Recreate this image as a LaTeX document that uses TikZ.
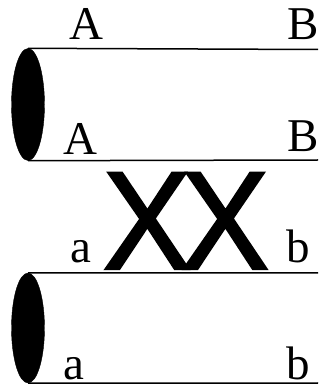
\documentclass[tikz,border=0pt]{standalone}
\usepackage{fontspec}
\setmainfont{Liberation Serif}
\newfontfamily\xfont[FakeBold=1.6]{Liberation Sans}
\usetikzlibrary{shapes.geometric}
\tikzset{
  endcap/.style={ellipse, fill=black, draw=black, inner sep=0pt, minimum width=33pt, minimum height=112pt},
  wire/.style={line width=1.5pt},
  lbl/.style={anchor=base, inner sep=0pt, font=\fontsize{47}{50}\selectfont},
}
\begin{document}
\begin{tikzpicture}[x=1pt,y=1pt]
\useasboundingbox (0,0) rectangle (320,386);
% top cylinder
\node[endcap] (e1) at (28,281.5) {};
\coordinate (t1) at (318,336.5);
\coordinate (t2) at (318,226);
\draw[wire] (e1.north) -- (t1);
\draw[wire] (e1.south) -- (t2);
% bottom cylinder
\node[endcap, minimum height=110pt] (e2) at (28,58) {};
\coordinate (b1) at (318,113);
\coordinate (b2) at (318,3);
\draw[wire] (e2.north) -- (b1);
\draw[wire] (e2.south) -- (b2);
% labels
\node[lbl] (A1) at (86.5,346.5) {A};
\node[lbl] (B1) at (303.5,346) {B};
\node[lbl] (A2) at (80.5,231.5) {A};
\node[lbl] (B2) at (303.5,234) {B};
\node[lbl] (a1) at (81,123) {a};
\node[lbl] (b1l) at (298.5,123) {b};
\node[lbl] (a2) at (74,6.5) {a};
\node[lbl] (b2l) at (298.5,6.5) {b};
% XX
\node[anchor=base, inner sep=0pt, font=\xfont\fontsize{140}{140}\selectfont, xscale=0.95] (xx) at (186,117) {X\kern-0.08emX};
\end{tikzpicture}
\end{document}
